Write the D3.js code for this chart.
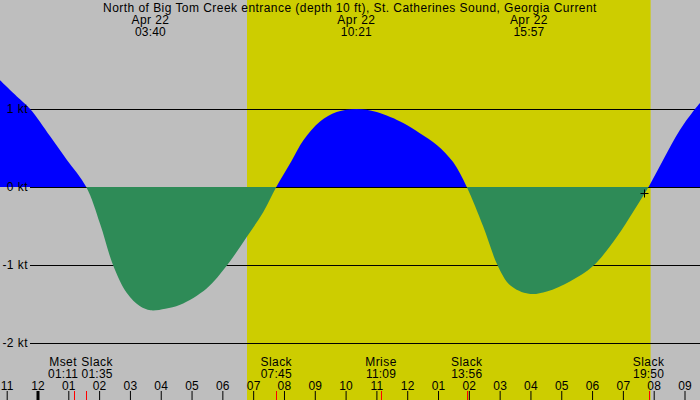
<!DOCTYPE html>
<html>
<head>
<meta charset="utf-8">
<script src="https://cdn.jsdelivr.net/npm/d3@7"></script>
<style>
  html, body { margin: 0; padding: 0; background: #bebebe; }
  svg text { font-family: "Liberation Sans", Arial, sans-serif; font-size: 12px; fill: #000; }
  svg text.words { letter-spacing: 0.45px; }
  svg text.nums { letter-spacing: 0.2px; }
</style>
</head>
<body>
<svg id="chart" width="700" height="400"></svg>
<script>
// station title
var title = "North of Big Tom Creek entrance (depth 10 ft), St. Catherines Sound, Georgia Current";

// current curve, hours from midnight Apr 22 and speed in knots (flood +, ebb -)
var hours = [-1.25, -0.67, -0.24, 0.41, 0.95, 1.583, 2.03, 2.46, 2.90, 3.33, 3.667, 4.15, 4.63,
    5.49, 6.14, 6.79, 7.33, 7.75, 8.24, 8.63, 9.17, 9.71, 10.35, 11.01, 11.87, 12.41, 12.96,
    13.49, 13.933, 14.47, 14.94, 15.34, 15.95, 16.53, 17.28, 18.04, 18.80, 19.33, 19.833,
    20.31, 20.85, 21.34, 21.55];
var knots = [1.38, 1.16, 1.00, 0.65, 0.35, 0, -0.47, -1.01, -1.36, -1.53, -1.58, -1.56, -1.51,
    -1.30, -1.01, -0.64, -0.32, 0, 0.33, 0.60, 0.84, 0.96, 1.00, 0.96, 0.82, 0.69, 0.54,
    0.32, 0, -0.51, -1.01, -1.26, -1.37, -1.34, -1.21, -1.01, -0.64, -0.32, 0,
    0.35, 0.73, 1.00, 1.10];

// max flood / ebb shown at the top
var peakDates = ["Apr 22", "Apr 22", "Apr 22"];
var peakLabels = ["03:40", "10:21", "15:57"];
var peakHours = [3.667, 10.35, 15.95];

// events along the bottom
var eventNames = ["Mset", "Slack", "Slack", "Mrise", "Slack", "Slack"];
var eventLabels = ["01:11", "01:35", "07:45", "11:09", "13:56", "19:50"];
var eventHours = [1.183, 1.583, 7.75, 11.15, 13.933, 19.833];

// daylight
var sunrise = 6.8;
var sunset = 19.9;

// marker on the curve
var markHour = 19.68;
var markKnots = -0.08;

// hour ticks and speed ticks
var hourTicks = d3.range(-1, 22);
var knotTicks = [-2, -1, 0, 1];

var W = 700, H = 400;
var svg = d3.select("#chart");

var x = d3.scaleLinear().domain([0, 21]).range([37.5, 684.5]);
var y = d3.scaleLinear().domain([-2, 1]).range([343, 109]);

// background and daylight band
svg.append("rect").attr("width", W).attr("height", H).attr("fill", "#bebebe");
svg.append("rect")
    .attr("x", x(sunrise)).attr("y", 0)
    .attr("width", x(sunset) - x(sunrise)).attr("height", H)
    .attr("fill", "#cdcd00");

// grid lines (under the fill)
var grid = svg.append("g").attr("transform", "translate(" + W + ",0)")
    .call(d3.axisLeft(y).tickValues(knotTicks).tickSizeInner(W - 30).tickSizeOuter(0).tickFormat(""));
grid.select(".domain").remove();
grid.selectAll("line").attr("stroke", "#000");

// current area, split at zero with two clips
var pts = hours.map(function (h, i) { return [h, knots[i]]; });
var area = d3.area()
    .x(function (d) { return x(d[0]); })
    .y0(y(0))
    .y1(function (d) { return y(d[1]); })
    .curve(d3.curveCatmullRom.alpha(0.5));

var defs = svg.append("defs");
defs.append("clipPath").attr("id", "above")
    .append("rect").attr("x", 0).attr("y", 0).attr("width", W).attr("height", y(0));
defs.append("clipPath").attr("id", "below")
    .append("rect").attr("x", 0).attr("y", y(0)).attr("width", W).attr("height", H - y(0));

svg.append("path").datum(pts).attr("d", area)
    .attr("fill", "#0000ff").attr("clip-path", "url(#above)");
svg.append("path").datum(pts).attr("d", area)
    .attr("fill", "#2e8b57").attr("clip-path", "url(#below)");

// marker
var mx = Math.round(x(markHour)) + 0.5, my = Math.round(y(markKnots)) + 0.5;
svg.append("path")
    .attr("d", "M" + (mx - 4) + "," + my + "H" + (mx + 4) + "M" + mx + "," + (my - 4) + "V" + (my + 4))
    .attr("stroke", "#000").attr("stroke-width", 1).attr("fill", "none");

// speed labels (over the fill)
var yLab = svg.append("g").attr("transform", "translate(30,0)")
    .call(d3.axisLeft(y).tickValues(knotTicks).tickSize(0).tickPadding(2)
        .tickFormat(function (d) { return d + " kt"; }));
yLab.select(".domain").remove();
yLab.selectAll("text").attr("fill", "#000").attr("class", "words");

// header
svg.append("text").attr("class", "words")
    .attr("x", W / 2).attr("y", 12).attr("text-anchor", "middle").text(title);
var peaks = svg.append("g").selectAll("g").data(peakHours).enter().append("g");
peaks.append("text").attr("class", "words").attr("x", function (d) { return x(d); }).attr("y", 24)
    .attr("text-anchor", "middle").text(function (d, i) { return peakDates[i]; });
peaks.append("text").attr("class", "nums").attr("x", function (d) { return x(d); }).attr("y", 36)
    .attr("text-anchor", "middle").text(function (d, i) { return peakLabels[i]; });

// hour axis along the bottom, labels above the ticks
var xAxis = svg.append("g").attr("transform", "translate(0," + H + ")")
    .call(d3.axisTop(x).tickValues(hourTicks).tickSizeInner(9).tickSizeOuter(0).tickPadding(1)
        .tickFormat(function (d) {
            var h = ((d % 12) + 12) % 12;
            if (h === 0) h = 12;
            return (h < 10 ? "0" : "") + h;
        }));
xAxis.select(".domain").remove();
xAxis.selectAll("line").attr("stroke", "#000");
xAxis.selectAll("text").attr("fill", "#000").attr("class", "nums");
xAxis.selectAll(".tick").filter(function (d) { return d === 0; })
    .select("line").attr("stroke-width", 3);

// event ticks
svg.append("g").selectAll("line").data(eventHours).enter().append("line")
    .attr("x1", function (d) { return Math.round(x(d)) + 0.5; })
    .attr("x2", function (d) { return Math.round(x(d)) + 0.5; })
    .attr("y1", H - 9).attr("y2", H)
    .attr("stroke", "#ff0000");

// event labels, pushed apart when they collide
var minGap = 34;
var cx = eventHours.map(function (d) { return x(d); });
for (var k = 0; k < 10; k++) {
    for (var i = 1; i < cx.length; i++) {
        var gap = cx[i] - cx[i - 1];
        if (gap < minGap) {
            var push = (minGap - gap) / 2;
            cx[i - 1] -= push;
            cx[i] += push;
        }
    }
}
var ev = svg.append("g").selectAll("g").data(eventHours).enter().append("g");
ev.append("text").attr("class", "words").attr("x", function (d, i) { return cx[i]; }).attr("y", 366)
    .attr("text-anchor", "middle").text(function (d, i) { return eventNames[i]; });
ev.append("text").attr("class", "nums").attr("x", function (d, i) { return cx[i]; }).attr("y", 378)
    .attr("text-anchor", "middle").text(function (d, i) { return eventLabels[i]; });
</script>
</body>
</html>
